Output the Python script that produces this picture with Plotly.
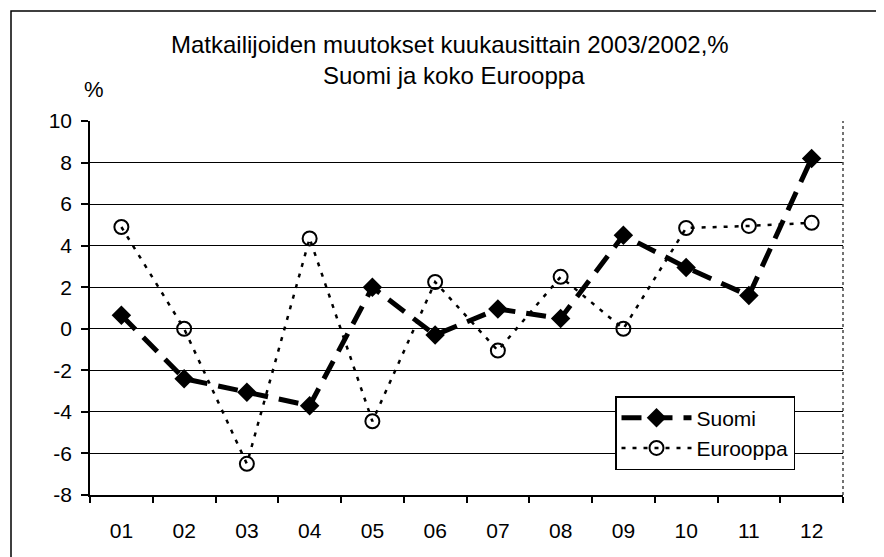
import plotly.graph_objects as go

# --- data ---
months = ["01", "02", "03", "04", "05", "06", "07", "08", "09", "10", "11", "12"]
suomi = [0.65, -2.4, -3.05, -3.7, 2.0, -0.3, 0.95, 0.5, 4.5, 2.95, 1.6, 8.2]
eurooppa = [4.9, 0.0, -6.5, 4.35, -4.45, 2.25, -1.05, 2.5, 0.0, 4.85, 4.95, 5.1]
y_ticks = [-8, -6, -4, -2, 0, 2, 4, 6, 8, 10]
y_ticktext = ["-8", "-6", "-4", "-2", "0", "2", "4", "6", "8", "10"]
x_pos = list(range(1, len(months) + 1))

FONT = "Liberation Sans, Arial, sans-serif"

# plot area in figure pixels (page has an 8px body margin)
L, R, T, B = 82, 835, 113, 487


def px_x(p):
    return (p - L) / (R - L)


def px_y(p):
    return (B - p) / (B - T)


fig = go.Figure()

fig.add_trace(go.Scatter(
    x=x_pos, y=eurooppa, name="Eurooppa", mode="lines+markers",
    line=dict(color="black", width=2.5, dash="4px,7px"),
    marker=dict(symbol="circle-open", size=14, color="black", line=dict(width=2)),
))
fig.add_trace(go.Scatter(
    x=x_pos, y=suomi, name="Suomi", mode="lines+markers",
    line=dict(color="black", width=5, dash="20px,11px"),
    marker=dict(symbol="diamond", size=15, color="black"),
))

# outer frame (runs off the right/bottom edges like the scan)
fig.add_shape(type="rect", xref="paper", yref="paper",
              x0=px_x(3), x1=px_x(900), y0=px_y(600), y1=px_y(3),
              line=dict(color="black", width=1.5), layer="below")
# right edge of plot area (dotted in the scan)
fig.add_shape(type="line", xref="paper", yref="paper", x0=1, x1=1, y0=0, y1=1,
              line=dict(color="#444", width=1.5, dash="dot"))

# title, two lines
fig.add_annotation(text="Matkailijoiden muutokset kuukausittain 2003/2002,%",
                   xref="paper", yref="paper", x=px_x(442), y=px_y(36),
                   xanchor="center", yanchor="middle", showarrow=False,
                   font=dict(size=24, family=FONT, color="black"))
fig.add_annotation(text="Suomi ja koko Eurooppa",
                   xref="paper", yref="paper", x=px_x(446), y=px_y(68),
                   xanchor="center", yanchor="middle", showarrow=False,
                   font=dict(size=24, family=FONT, color="black"))
fig.add_annotation(text="%", xref="paper", yref="paper",
                   x=px_x(86), y=px_y(81), xanchor="center", yanchor="middle",
                   showarrow=False, font=dict(size=22, family=FONT, color="black"))

fig.update_layout(
    width=884, height=557,
    margin=dict(l=L, r=884 - R, t=T, b=557 - B),
    paper_bgcolor="white", plot_bgcolor="white",
    font=dict(family=FONT, color="black", size=21),
    showlegend=True,
    legend=dict(
        x=px_x(607), y=px_y(388), xanchor="left", yanchor="top",
        bgcolor="white", bordercolor="black", borderwidth=1.5,
        font=dict(size=21, family=FONT, color="black"),
        traceorder="reversed", tracegroupgap=0, itemwidth=70,
    ),
    xaxis=dict(
        range=[0.5, 12.5], tickmode="array", tickvals=x_pos, ticktext=months,
        ticks="", showgrid=False, zeroline=False,
        showline=True, linecolor="black", linewidth=1.5,
        minor=dict(ticks="outside", tick0=0.5, dtick=1, ticklen=6,
                   tickcolor="black", tickwidth=1.5, showgrid=False),
        tickfont=dict(size=21), ticklabelstandoff=16,
    ),
    yaxis=dict(
        range=[-8, 10], tickmode="array", tickvals=y_ticks, ticktext=y_ticktext,
        showgrid=True, gridcolor="black", gridwidth=1.2,
        zeroline=False, showline=True, linecolor="black", linewidth=1.5,
        ticks="outside", ticklen=7, tickcolor="black", tickwidth=1.5,
        tickfont=dict(size=21), ticklabelstandoff=5,
    ),
)

fig.write_html("out.html")
